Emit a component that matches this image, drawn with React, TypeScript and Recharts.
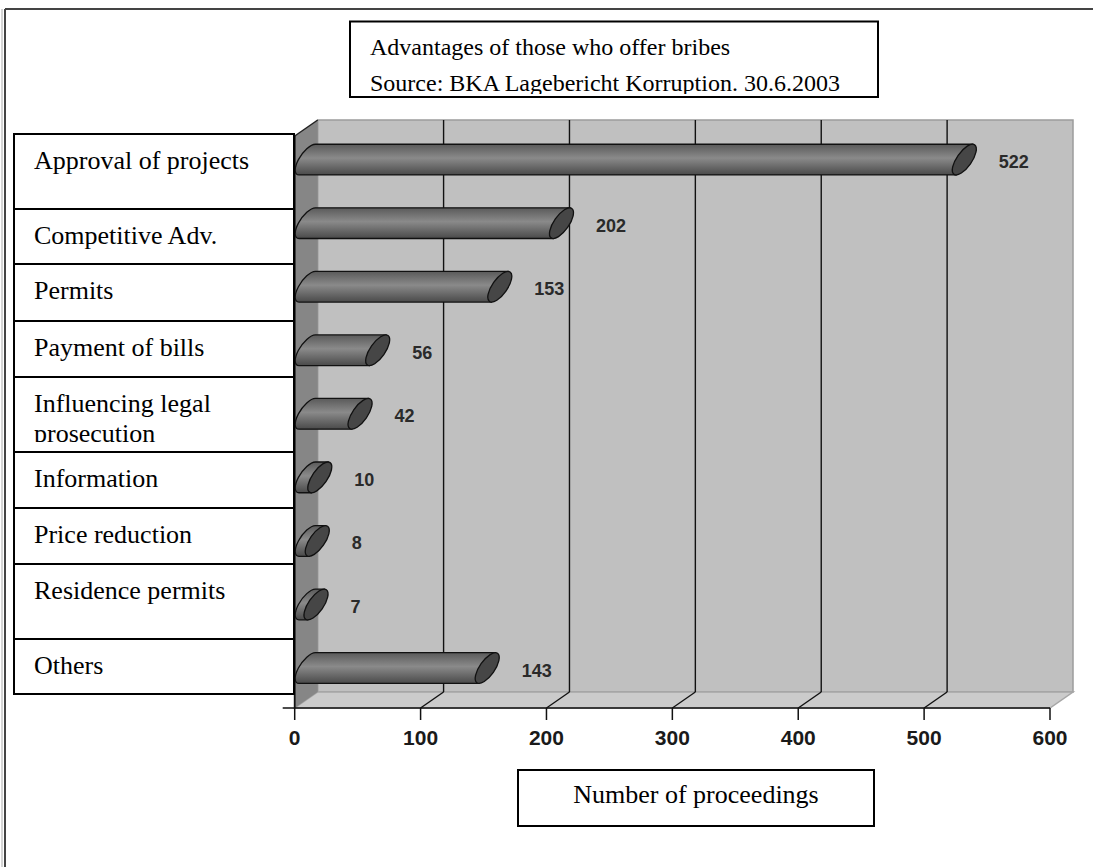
import React from 'react';
import { BarChart, Bar, XAxis, YAxis, ReferenceArea, ReferenceLine } from 'recharts';

// ---- data ----
const categories = [
  'Approval of projects',
  'Competitive Adv.',
  'Permits',
  'Payment of bills',
  'Influencing legal prosecution',
  'Information',
  'Price reduction',
  'Residence permits',
  'Others',
];
const proceedings = [522, 202, 153, 56, 42, 10, 8, 7, 143];
const xTicks = [0, 100, 200, 300, 400, 500, 600];
const gridTicks = [100, 200, 300, 400, 500];
const titleLines = [
  'Advantages of those who offer bribes',
  'Source: BKA Lagebericht Korruption. 30.6.2003',
];
const axisTitle = 'Number of proceedings';

const data = categories.map((name, i) => ({ name, value: proceedings[i] }));

// ---- layout ----
const W = 1093;
const H = 867;
const PLOT_LEFT = 294.7;
const PLOT_TOP = 136;
const PLOT_RIGHT = 1050;
const PLOT_BOTTOM = 708;
const Y_AXIS_W = 280;
const X_AXIS_H = 30;
const DEPTH_DX = 23;
const DEPTH_DY = -16;

const LABEL_LEFT = 14;
const LABEL_RIGHT = 294;
const LABEL_TOP = 134;
const LABEL_BOX_HEIGHTS = [75, 55, 57, 56, 75, 56, 56, 75, 55];

const SERIF = '"Liberation Serif", "Times New Roman", Times, serif';
const SANS = '"Liberation Sans", Arial, Helvetica, sans-serif';

// cylinder cross-section (projected circle)
const CYL_A = 18;
const CYL_B = 7.5;
const CYL_ROT = -55;
const CYL_SHIFT_X = 12.5;
const CYL_SHIFT_Y = -7.9;

function ellipseTangents() {
  const th = (CYL_ROT * Math.PI) / 180;
  const t = Math.atan2(CYL_B * Math.cos(th), CYL_A * Math.sin(th));
  const pt = (tt: number) => ({
    x: CYL_A * Math.cos(tt) * Math.cos(th) - CYL_B * Math.sin(tt) * Math.sin(th),
    y: CYL_A * Math.cos(tt) * Math.sin(th) + CYL_B * Math.sin(tt) * Math.cos(th),
  });
  const p1 = pt(t);
  const p2 = pt(t + Math.PI);
  return p1.y > p2.y ? { bottom: p1, top: p2 } : { bottom: p2, top: p1 };
}
const TAN = ellipseTangents();

const CylinderBar = (props: any) => {
  const { x, y, width, height } = props;
  if (x == null || y == null) return null;
  const cy = y + height / 2 + CYL_SHIFT_Y;
  const cx0 = x + CYL_SHIFT_X;
  const cx1 = x + Math.max(width, 0) + CYL_SHIFT_X;
  const lt = { x: cx0 + TAN.top.x, y: cy + TAN.top.y };
  const lb = { x: cx0 + TAN.bottom.x, y: cy + TAN.bottom.y };
  const rt = { x: cx1 + TAN.top.x, y: cy + TAN.top.y };
  const rb = { x: cx1 + TAN.bottom.x, y: cy + TAN.bottom.y };
  const d = `M${lt.x},${lt.y} L${rt.x},${rt.y} L${rb.x},${rb.y} L${lb.x},${lb.y} A${CYL_A},${CYL_B} ${CYL_ROT} 0 1 ${lt.x},${lt.y} Z`;
  return (
    <g>
      <path d={d} fill="url(#cylBody)" stroke="#111" strokeWidth={1.3} />
      <ellipse
        cx={cx1}
        cy={cy}
        rx={CYL_A}
        ry={CYL_B}
        transform={`rotate(${CYL_ROT} ${cx1} ${cy})`}
        fill="#464646"
        stroke="#111"
        strokeWidth={1.3}
      />
    </g>
  );
};

const ValueLabel = (props: any) => {
  const { x, y, width, height, value } = props;
  if (x == null) return null;
  const cy = y + height / 2 + CYL_SHIFT_Y;
  return (
    <text
      x={x + width + 47}
      y={cy + 8.5}
      fontFamily={SANS}
      fontWeight="bold"
      fontSize={18}
      fill="#2a2a2a"
    >
      {value}
    </text>
  );
};

// 3D box: back wall, left wall and floor behind the front plane
const Walls = (props: any) => {
  const { x, y, width, height } = props;
  const bx = x + DEPTH_DX;
  const by = y + DEPTH_DY;
  return (
    <g>
      <defs>
        <linearGradient id="cylBody" x1="0" y1="0" x2="0" y2="1">
          <stop offset="0" stopColor="#5a5a5a" />
          <stop offset="0.45" stopColor="#8a8a8a" />
          <stop offset="1" stopColor="#4a4a4a" />
        </linearGradient>
      </defs>
      <rect x={bx} y={by} width={width} height={height} fill="#c0c0c0" stroke="#9c9c9c" strokeWidth={1.5} />
      <polygon
        points={`${x},${y + height} ${bx},${by + height} ${bx + width},${by + height} ${x + width},${y + height}`}
        fill="#cbcbcb"
        stroke="#a6a6a6"
        strokeWidth={1.5}
      />
      <polygon
        points={`${x},${y} ${bx},${by} ${bx},${by + height} ${x},${y + height}`}
        fill="#868686"
      />
      <line x1={x} y1={y} x2={bx} y2={by} stroke="#222" strokeWidth={1.5} />
      <line x1={x} y1={y} x2={x} y2={y + height} stroke="#111" strokeWidth={1.8} />
      <line x1={x - 12} y1={y + height} x2={x} y2={y + height} stroke="#111" strokeWidth={1.5} />
    </g>
  );
};

const DepthGridLine = (props: any) => {
  const { x1, y1, y2 } = props;
  if (x1 == null) return null;
  const top = Math.min(y1, y2);
  const bottom = Math.max(y1, y2);
  return (
    <g>
      <line x1={x1 + DEPTH_DX} y1={top + DEPTH_DY} x2={x1 + DEPTH_DX} y2={bottom + DEPTH_DY} stroke="#111" strokeWidth={1.4} />
      <line x1={x1} y1={bottom} x2={x1 + DEPTH_DX} y2={bottom + DEPTH_DY} stroke="#111" strokeWidth={1.4} />
    </g>
  );
};

const XTick = (props: any) => {
  const { x, y, payload } = props;
  return (
    <text x={x} y={y + 23} textAnchor="middle" fontFamily={SANS} fontWeight="bold" fontSize={21} fill="#1a1a1a">
      {payload.value}
    </text>
  );
};

function wrapWords(text: string, maxChars: number) {
  const words = text.split(' ');
  const lines: string[] = [];
  let cur = '';
  for (const w of words) {
    const next = cur ? cur + ' ' + w : w;
    if (next.length > maxChars && cur) {
      lines.push(cur);
      cur = w;
    } else {
      cur = next;
    }
  }
  if (cur) lines.push(cur);
  return lines;
}

const CategoryBox = (props: any) => {
  const { payload } = props;
  const i = props.index ?? payload?.index ?? 0;
  let top = LABEL_TOP;
  for (let k = 0; k < i; k++) top += LABEL_BOX_HEIGHTS[k];
  const h = LABEL_BOX_HEIGHTS[i];
  const lines = wrapWords(String(payload.value), 20);
  const clipId = `catclip-${i}`;
  return (
    <g>
      <defs>
        <clipPath id={clipId}>
          <rect x={LABEL_LEFT} y={top} width={LABEL_RIGHT - LABEL_LEFT} height={h - 10} />
        </clipPath>
      </defs>
      <rect x={LABEL_LEFT} y={top} width={LABEL_RIGHT - LABEL_LEFT} height={h} fill="#fff" stroke="#000" strokeWidth={2} />
      <text fontFamily={SERIF} fontSize={26} fill="#000" clipPath={`url(#${clipId})`}>
        {lines.map((l, k) => (
          <tspan key={k} x={34} y={top + 34.5 + k * 30}>
            {l}
          </tspan>
        ))}
      </text>
    </g>
  );
};

export default function App() {
  return (
    <div style={{ position: 'absolute', left: 0, top: 0, width: W, height: H, background: '#fff' }}>
      <BarChart
        width={W}
        height={H}
        data={data}
        layout="vertical"
        margin={{
          top: PLOT_TOP,
          right: W - PLOT_RIGHT,
          bottom: H - PLOT_BOTTOM - X_AXIS_H,
          left: PLOT_LEFT - Y_AXIS_W,
        }}
      >
        <XAxis
          type="number"
          domain={[0, 600]}
          ticks={xTicks}
          interval={0}
          height={X_AXIS_H}
          axisLine={{ stroke: '#111', strokeWidth: 1.5 }}
          tickLine={{ stroke: '#111', strokeWidth: 1.5 }}
          tickSize={12}
          tick={<XTick />}
        />
        <YAxis
          type="category"
          dataKey="name"
          width={Y_AXIS_W}
          axisLine={false}
          tickLine={false}
          interval={0}
          tick={<CategoryBox />}
        />
        <ReferenceArea x1={0} x2={600} shape={<Walls />} zIndex={50} />
        {gridTicks.map((t) => (
          <ReferenceLine key={t} x={t} shape={<DepthGridLine />} zIndex={150} />
        ))}
        <Bar
          dataKey="value"
          barSize={31}
          isAnimationActive={false}
          shape={<CylinderBar />}
          label={<ValueLabel />}
        />
      </BarChart>
      <svg
        width={W}
        height={H}
        style={{ position: 'absolute', left: 0, top: 0, pointerEvents: 'none' }}
      >
        <defs>
          <clipPath id="titleClip">
            <rect x={352} y={23} width={524} height={71} />
          </clipPath>
        </defs>
        {/* page frame */}
        <line x1={5} y1={9} x2={W} y2={9} stroke="#444" strokeWidth={2} />
        <line x1={5} y1={9} x2={5} y2={H} stroke="#444" strokeWidth={2} />
        <line x1={2} y1={9} x2={2} y2={H} stroke="#aaa" strokeWidth={1} />
        {/* title box */}
        <rect x={350} y={21.5} width={528} height={75.5} fill="#fff" stroke="#000" strokeWidth={2} />
        <text fontFamily={SERIF} fontSize={24} fill="#000" clipPath="url(#titleClip)">
          {titleLines.map((l, k) => (
            <tspan key={k} x={370} y={55 + k * 36}>
              {l}
            </tspan>
          ))}
        </text>
        {/* axis title box */}
        <rect x={518} y={770} width={356} height={56} fill="#fff" stroke="#000" strokeWidth={2} />
        <text x={696} y={803} textAnchor="middle" fontFamily={SERIF} fontSize={26} fill="#000">
          {axisTitle}
        </text>
      </svg>
    </div>
  );
}
